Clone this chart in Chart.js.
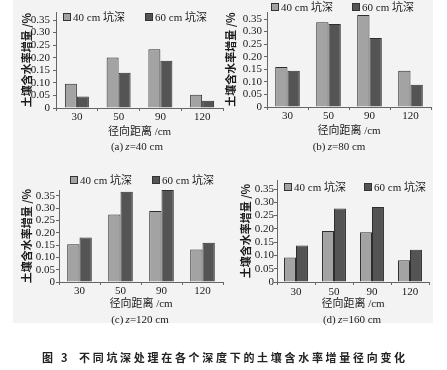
<!DOCTYPE html>
<html><head><meta charset="utf-8">
<script src="https://cdn.jsdelivr.net/npm/chart.js@4.4.1/dist/chart.umd.min.js"></script>
<style>
html,body{margin:0;padding:0;background:#fff;width:447px;height:370px;overflow:hidden;position:relative}
canvas{position:absolute}
.cap{position:absolute;font:11px 'Liberation Serif','Noto Sans CJK SC';color:#1a1a1a;white-space:nowrap;transform:translateX(-50%);line-height:14px}
.leg{position:absolute;font:11px 'Liberation Serif','Noto Sans CJK SC';color:#1a1a1a;white-space:nowrap;line-height:12px;display:flex;align-items:center}
.box{width:6px;height:6px;border:1px solid #333;margin-right:2px}
.fig{position:absolute;font:bold 11px 'Noto Sans CJK SC';color:#222;white-space:nowrap;line-height:14px;letter-spacing:2.7px}
</style></head><body>
<div style="position:absolute;left:13px;top:0;width:420px;height:323px;background:#f3f3f3"></div>
<script>
// ---- data ----
const categories = ['30', '50', '90', '120'];
const seriesNames = ['40 cm 坑深', '60 cm 坑深'];
const yTickValues = [0, 0.05, 0.10, 0.15, 0.20, 0.25, 0.30, 0.35];
const yTickLabels = ['0', '0.05', '0.10', '0.15', '0.20', '0.25', '0.30', '0.35'];
const xTitle = '径向距离 /cm';
const yTitle = '土壤含水率增量 /%';
const panelLetters = ['(a)', '(b)', '(c)', '(d)'];
const panelDepths = ['40', '80', '120', '160'];
const figTitleNo = '图 3';
const figTitle = '不同坑深处理在各个深度下的土壤含水率增量径向变化';

const a40 = [0.096, 0.201, 0.234, 0.053];
const a60 = [0.046, 0.140, 0.188, 0.029];
const b40 = [0.159, 0.337, 0.366, 0.144];
const b60 = [0.144, 0.330, 0.275, 0.089];
const c40 = [0.153, 0.274, 0.288, 0.132];
const c60 = [0.180, 0.366, 0.373, 0.159];
const d40 = [0.092, 0.192, 0.187, 0.082];
const d60 = [0.137, 0.277, 0.282, 0.121];

// ---- styles / layout ----
const LIGHT = '#a3a3a3', DARK = '#545454', EDGE = '#2e2e2e', AXIS = '#666666', TXT = '#1a1a1a';
const SERIF = "'Liberation Serif','Noto Sans CJK SC'";
const XH = 32;
const panels = [
  {x:0,   y:0,   w:224, h:165, L:56, R:223, T:12, B:108, max:0.382, cp:0.575, ytp:3, ytt:20, xtp:0, xtb:1, d1:a40, d2:a60,
   capX:137, capY:146, leg:[[63,17],[145,17]]},
  {x:224, y:0,   w:223, h:165, L:43, R:207, T:12, B:107, max:0.378, cp:0.6, ytp:2, ytt:0, xtp:0, xtb:1, d1:b40, d2:b60,
   capX:339, capY:146, leg:[[271,7],[352,7]]},
  {x:0,   y:165, w:224, h:165, L:59, R:223, T:25, B:117, max:0.373, cp:0.6, ytp:1, ytt:20, xtp:0, xtb:3, d1:c40, d2:c60,
   capX:140, capY:319, leg:[[70,180],[152,180]]},
  {x:224, y:165, w:223, h:165, L:53, R:205, T:15, B:117, max:0.384, cp:0.63, ytp:0, ytt:15, xtp:1, xtb:3, d1:d40, d2:d60,
   capX:352, capY:319, leg:[[284,186.5],[364,186.5]]}
];

panels.forEach((p, k) => {
  const cv = document.createElement('canvas');
  cv.width = p.w; cv.height = p.h;
  cv.style.left = p.x + 'px'; cv.style.top = p.y + 'px';
  cv.style.width = p.w + 'px'; cv.style.height = p.h + 'px';
  document.body.appendChild(cv);
  new Chart(cv, {
    type: 'bar',
    data: {
      labels: categories,
      datasets: [
        {label: seriesNames[0], data: p.d1, backgroundColor: LIGHT, borderColor: EDGE, borderWidth: 1,
         categoryPercentage: p.cp, barPercentage: 1},
        {label: seriesNames[1], data: p.d2, backgroundColor: DARK, borderColor: EDGE, borderWidth: 1,
         categoryPercentage: p.cp, barPercentage: 1}
      ]
    },
    options: {
      responsive: false, animation: false, devicePixelRatio: 1,
      layout: {padding: {left: 0, right: p.w - p.R, top: p.T, bottom: p.h - p.B - XH}},
      plugins: {legend: {display: false}, tooltip: {enabled: false}},
      scales: {
        x: {
          grid: {drawOnChartArea: false, drawTicks: true, tickLength: 3, color: AXIS},
          border: {color: AXIS, width: 1},
          ticks: {padding: p.xtp, color: TXT, font: {family: SERIF, size: 11}, maxRotation: 0, autoSkip: false},
          title: {display: true, text: xTitle, color: TXT, padding: {top: 0, bottom: p.xtb}, font: {family: SERIF, size: 11}},
          afterFit(s) { s.height = XH; }
        },
        y: {
          min: 0, max: p.max,
          grid: {drawOnChartArea: false, drawTicks: true, tickLength: 3, color: AXIS},
          border: {color: AXIS, width: 1},
          afterBuildTicks(s) { s.ticks = yTickValues.map(v => ({value: v})); },
          ticks: {padding: p.ytp, color: TXT, font: {family: SERIF, size: 11}, autoSkip: false,
                  callback: (v, i) => yTickLabels[i]},
          title: {display: true, text: yTitle, color: TXT, padding: {top: p.ytt, bottom: 0},
                  font: {family: "'Noto Sans CJK SC'", size: 11, weight: 'bold'}},
          afterFit(s) { s.width = p.L; }
        }
      }
    }
  });

  // caption
  const cap = document.createElement('div');
  cap.className = 'cap';
  cap.style.left = p.capX + 'px';
  cap.style.top = (p.capY - 7) + 'px';
  cap.innerHTML = panelLetters[k] + '&thinsp;<i>z</i>=' + panelDepths[k] + ' cm';
  document.body.appendChild(cap);

  // legend
  [LIGHT, DARK].forEach((col, j) => {
    const lg = document.createElement('div');
    lg.className = 'leg';
    lg.style.left = p.leg[j][0] + 'px';
    lg.style.top = (p.leg[j][1] - 6) + 'px';
    const bx = document.createElement('span');
    bx.className = 'box'; bx.style.background = col;
    const tx = document.createElement('span');
    tx.textContent = seriesNames[j];
    lg.appendChild(bx); lg.appendChild(tx);
    document.body.appendChild(lg);
  });
});

const f1 = document.createElement('div');
f1.className = 'fig'; f1.style.left = '42px'; f1.style.top = '350px'; f1.textContent = figTitleNo;
document.body.appendChild(f1);
const f2 = document.createElement('div');
f2.className = 'fig'; f2.style.left = '79px'; f2.style.top = '350px'; f2.textContent = figTitle;
document.body.appendChild(f2);
</script>
</body></html>
